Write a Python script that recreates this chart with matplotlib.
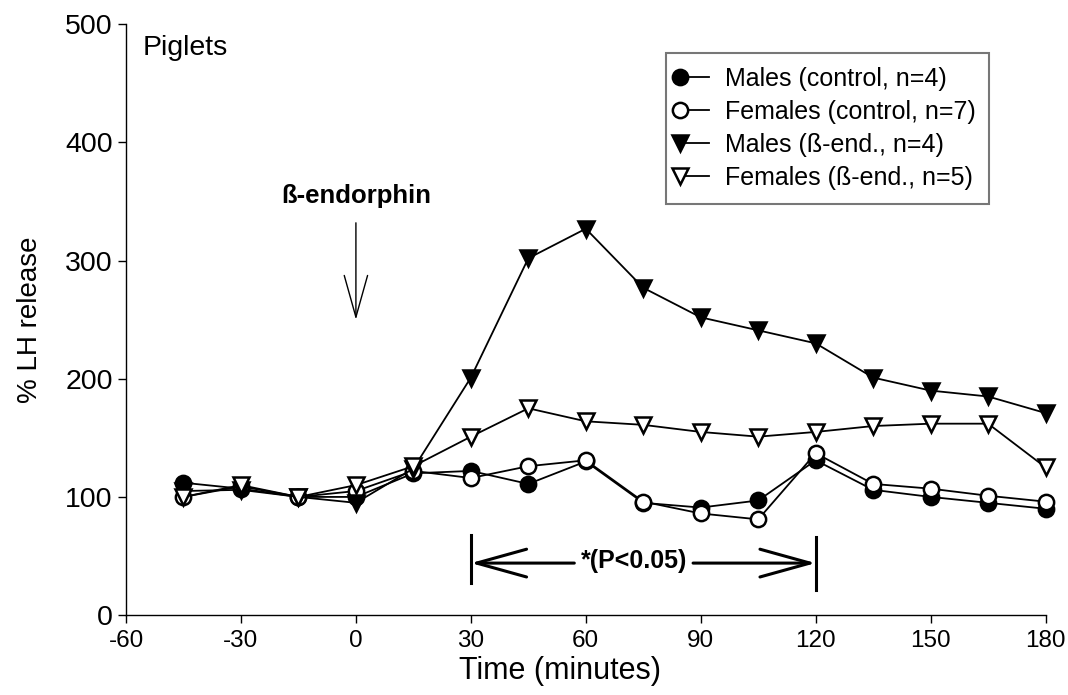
import matplotlib
matplotlib.use('Agg')
import matplotlib.pyplot as plt
from matplotlib.legend_handler import HandlerLine2D

# time points (minutes) and % LH release for each group
time = [-45, -30, -15, 0, 15, 30, 45, 60, 75, 90, 105, 120, 135, 150, 165, 180]
males_ctrl = [112, 107, 100, 100, 120, 122, 111, 130, 95, 91, 97, 131, 106, 100, 95, 90]
females_ctrl = [100, 109, 100, 105, 122, 116, 126, 131, 96, 86, 81, 137, 111, 107, 101, 96]
males_bend = [105, 106, 100, 95, 124, 201, 302, 327, 277, 252, 241, 230, 201, 190, 185, 171]
females_bend = [100, 110, 100, 110, 126, 151, 175, 164, 161, 155, 151, 155, 160, 162, 162, 125]

labels = ['Males (control, n=4)', 'Females (control, n=7)',
          'Males (ß-end., n=4)', 'Females (ß-end., n=5)']
xticks = [-60, -30, 0, 30, 60, 90, 120, 150, 180]
yticks = [0, 100, 200, 300, 400, 500]

plt.rcParams['font.family'] = ['Liberation Sans', 'DejaVu Sans']
plt.rcParams['axes.unicode_minus'] = False


# legend handle: full-length line, marker only on its left end
class LeftMarker(HandlerLine2D):
    def get_xdata(self, legend, xdescent, ydescent, width, height, fontsize):
        x = [-xdescent, -xdescent + width]
        return x, x[:1]

    def create_artists(self, legend, orig_handle, xdescent, ydescent, width, height, fontsize, trans):
        arts = super().create_artists(legend, orig_handle, xdescent, ydescent, width, height,
                                      fontsize, trans)
        for a in arts:
            a.set_markevery([0])
        return arts


fig = plt.figure(figsize=(10.68, 6.95), dpi=100)
ax = fig.add_axes([0.118, 0.115, 0.861, 0.85])

ms = 11
mew = 1.8
ax.plot(time, males_ctrl, '-o', color='black', mfc='black', mec='black', ms=ms, mew=mew, lw=1.3,
        label=labels[0], clip_on=False)
ax.plot(time, females_ctrl, '-o', color='black', mfc='white', mec='black', ms=ms, mew=mew, lw=1.3,
        label=labels[1], clip_on=False)
ax.plot(time, males_bend, '-v', color='black', mfc='black', mec='black', ms=ms + 1, mew=mew, lw=1.3,
        label=labels[2], clip_on=False)
ax.plot(time, females_bend, '-v', color='black', mfc='white', mec='black', ms=ms + 1, mew=mew, lw=1.3,
        label=labels[3], clip_on=False)

ax.set_xlim(-60, 180)
ax.set_ylim(0, 500)
ax.set_xticks(xticks)
ax.set_yticks(yticks)
ax.tick_params(axis='x', labelsize=17.5, pad=5)
ax.tick_params(axis='y', labelsize=20.5)
ax.tick_params(direction='out', length=6, width=1)
for s in ['top', 'right']:
    ax.spines[s].set_visible(False)
for s in ['left', 'bottom']:
    ax.spines[s].set_linewidth(1)

ax.set_xlabel('Time (minutes)', fontsize=22)
ax.xaxis.set_label_coords(0.472, -0.07)
ax.set_ylabel('% LH release', fontsize=20, labelpad=16)

ax.text(0.018, 0.982, 'Piglets', transform=ax.transAxes, fontsize=20.5, va='top', ha='left')

# beta-endorphin injection arrow
ax.text(0, 355, 'ß-endorphin', fontsize=18.5, fontweight='bold', ha='center', va='center')
ax.annotate('', xy=(0, 250), xytext=(0, 332),
            arrowprops=dict(arrowstyle='->, head_length=1.5, head_width=0.42', lw=1, color='black',
                            mutation_scale=20, shrinkA=0, shrinkB=0))

# significance bracket
ax.plot([30, 30], [27, 68], color='black', lw=2.2)
ax.plot([120, 120], [21, 66], color='black', lw=2.2)
ax.annotate('', xy=(30, 44), xytext=(57, 44),
            arrowprops=dict(arrowstyle='->, head_length=1.8, head_width=0.5', lw=2.2, color='black',
                            mutation_scale=20, shrinkA=0, shrinkB=0))
ax.annotate('', xy=(120, 44), xytext=(88, 44),
            arrowprops=dict(arrowstyle='->, head_length=1.8, head_width=0.5', lw=2.2, color='black',
                            mutation_scale=20, shrinkA=0, shrinkB=0))
ax.text(72.5, 46, '*(P<0.05)', fontsize=18, fontweight='bold', ha='center', va='center')

handles, labs = ax.get_legend_handles_labels()
leg = ax.legend(handles, labs, loc='upper right', bbox_to_anchor=(0.939, 0.951), borderaxespad=0,
                fontsize=18, frameon=True, fancybox=False, edgecolor='#555555', handlelength=1.15,
                handletextpad=0.65, labelspacing=0.36, borderpad=0.55, numpoints=2,
                handler_map={h: LeftMarker() for h in handles})
leg.get_frame().set_linewidth(1.5)

fig.savefig('out.png', dpi=100)
